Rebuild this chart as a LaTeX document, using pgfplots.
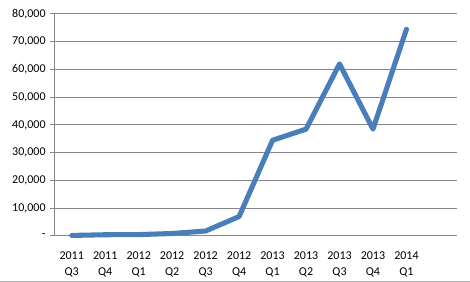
\documentclass[border=0pt]{standalone}
\usepackage{pgfplots}
\pgfplotsset{compat=1.18}
\usepackage{fontspec}
\setmainfont{Carlito}
\definecolor{lineblue}{HTML}{4A7EBB}
\definecolor{gridgray}{HTML}{868686}
\begin{document}
\begin{tikzpicture}
\begin{axis}[
  name=ax,
  scale only axis,
  width=301.25pt, height=166.5pt,
  xmin=-0.5, xmax=11.5,
  ymin=0, ymax=80000,
  scaled y ticks=false,
  axis line style={gridgray, line width=0.75pt},
  axis x line*=bottom,
  axis y line*=left,
  ytick={0,10000,...,80000},
  yticklabels={-,{10,000},{20,000},{30,000},{40,000},{50,000},{60,000},{70,000},{80,000}},
  ymajorgrids,
  major grid style={gridgray, line width=0.75pt},
  xtick={0,...,10},
  xticklabels={{2011\\Q3},{2011\\Q4},{2012\\Q1},{2012\\Q2},{2012\\Q3},{2012\\Q4},{2013\\Q1},{2013\\Q2},{2013\\Q3},{2013\\Q4},{2014\\Q1}},
  x tick label style={align=center, font=\fontsize{9}{11.8}\selectfont, yshift=-5pt},
  y tick label style={font=\fontsize{9}{10}\selectfont},
  major x tick style={draw=none},
  extra x ticks={-0.5,0.5,...,11.5},
  extra x tick labels={},
  extra x tick style={major tick length=4pt, tick align=outside, tick style={draw=gridgray, line width=0.75pt}, grid=none},
  major y tick style={draw=gridgray, line width=0.75pt},
  tick align=outside,
  major tick length=3.5pt,
  clip=false,
]
\addplot[lineblue, line width=3.8pt, line join=round, line cap=round] coordinates {
  (0,200) (1,450) (2,500) (3,900) (4,1800) (5,7000) (6,34500) (7,38500) (8,62000) (9,38500) (10,74500)
};
\end{axis}
\pgfresetboundingbox
\useasboundingbox ([xshift=-41.25pt,yshift=10.5pt]ax.north west) rectangle ([xshift=10pt,yshift=-34.5pt]ax.south east);
\draw[gray!60, line width=0.75pt] ([xshift=-41.25pt,yshift=-33.9pt]ax.south west) -- ([xshift=10pt,yshift=-33.9pt]ax.south east);
\end{tikzpicture}
\end{document}
